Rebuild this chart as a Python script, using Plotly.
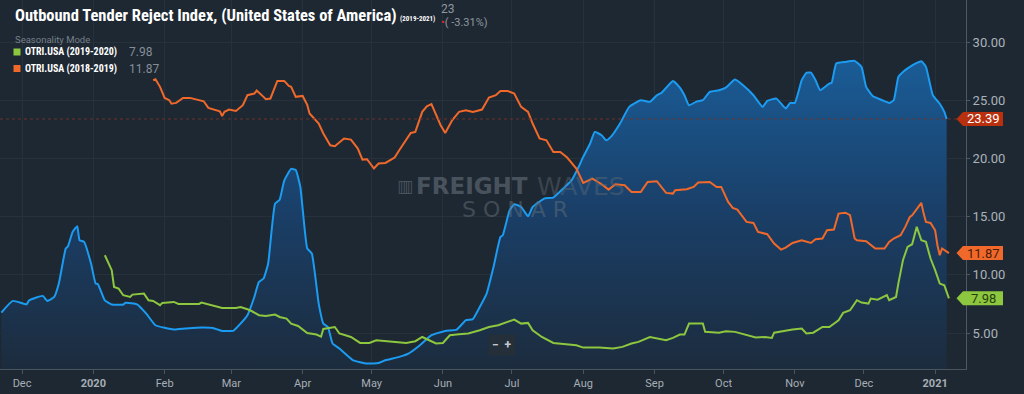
import plotly.graph_objects as go

# ---------------- data ----------------
blue_dates = ["2019-11-22","2019-11-27","2019-12-03","2019-12-04","2019-12-10","2019-12-12","2019-12-15","2019-12-17",
"2019-12-20","2019-12-21","2019-12-23","2019-12-25","2019-12-26","2019-12-28","2019-12-31","2020-01-02","2020-01-03",
"2020-01-06","2020-01-09","2020-01-14","2020-01-15","2020-01-20","2020-01-24","2020-01-28","2020-02-05","2020-02-10",
"2020-02-17","2020-02-22","2020-02-26","2020-03-02","2020-03-05","2020-03-08","2020-03-11","2020-03-13","2020-03-15",
"2020-03-17","2020-03-20","2020-03-22","2020-03-24","2020-03-27","2020-03-29","2020-03-31","2020-04-03","2020-04-05",
"2020-04-08","2020-04-10","2020-04-12","2020-04-14","2020-04-17","2020-04-23","2020-04-29","2020-05-04","2020-05-07",
"2020-05-13","2020-05-17","2020-05-22","2020-05-27","2020-06-02","2020-06-07","2020-06-11","2020-06-14","2020-06-17",
"2020-06-20","2020-06-23","2020-06-26","2020-06-27","2020-06-30","2020-07-02","2020-07-05","2020-07-08","2020-07-10",
"2020-07-15","2020-07-19","2020-07-24","2020-07-27","2020-07-30","2020-08-01","2020-08-04","2020-08-06","2020-08-09",
"2020-08-11","2020-08-13","2020-08-17","2020-08-21","2020-08-26","2020-08-30","2020-09-02","2020-09-04","2020-09-09",
"2020-09-12","2020-09-14","2020-09-16","2020-09-19","2020-09-22","2020-09-25","2020-09-29","2020-10-02","2020-10-06",
"2020-10-10","2020-10-14","2020-10-18","2020-10-20","2020-10-24","2020-10-28","2020-10-30","2020-11-01","2020-11-04",
"2020-11-06","2020-11-08","2020-11-10","2020-11-12","2020-11-16","2020-11-17","2020-11-19","2020-11-23","2020-11-27",
"2020-11-30","2020-12-02","2020-12-05","2020-12-09","2020-12-12","2020-12-14","2020-12-16","2020-12-18","2020-12-21",
"2020-12-24","2020-12-26","2020-12-28","2020-12-31","2021-01-03","2021-01-05","2021-01-06"]
blue_vals = [6.76,7.76,7.47,7.8,8.19,7.76,8.1,9.25,
12.26,12.46,13.69,14.18,12.97,12.83,10.97,9.25,9.2,
7.8,7.45,7.45,7.6,7.47,6.67,5.67,5.3,5.38,
5.47,5.43,5.18,5.21,5.81,6.53,8.1,9.39,9.68,
10.97,16.1,16.45,18.1,19.1,19.0,17.55,12.26,11.83,
7.5,5.81,5.52,4.1,3.67,2.66,2.38,2.43,2.66,
2.95,3.23,3.95,4.81,5.18,5.3,6.1,6.2,7.23,
8.39,10.68,13.26,13.4,15.55,16.07,15.83,15.03,15.83,
16.55,16.64,17.55,18.13,19.27,20.13,21.28,22.28,21.99,
21.56,21.85,23.0,24.43,25.0,24.86,25.43,25.63,26.66,
26.09,25.43,24.57,24.86,25.0,25.72,25.86,26.09,26.77,
26.2,25.43,24.43,24.94,25.14,24.29,24.77,24.77,26.72,
27.35,27.38,26.72,25.86,26.43,26.49,28.15,28.29,28.38,
27.86,26.15,25.34,25.0,24.77,25.0,27.0,27.43,27.86,
28.2,28.35,27.86,25.43,24.7,24.0,23.39]

orange_dates = ["2020-01-27","2020-01-28","2020-01-30","2020-02-01","2020-02-03","2020-02-04","2020-02-06","2020-02-09",
"2020-02-12","2020-02-15","2020-02-18","2020-02-20","2020-02-23","2020-02-25","2020-02-26","2020-02-27","2020-02-29",
"2020-03-03","2020-03-06","2020-03-08","2020-03-11","2020-03-12","2020-03-15","2020-03-16","2020-03-18","2020-03-19",
"2020-03-21","2020-03-24","2020-03-26","2020-03-27","2020-03-29","2020-04-01","2020-04-03","2020-04-04","2020-04-08",
"2020-04-10","2020-04-13","2020-04-15","2020-04-19","2020-04-22","2020-04-25","2020-04-27","2020-04-29","2020-05-02",
"2020-05-04","2020-05-07","2020-05-11","2020-05-13","2020-05-18","2020-05-20","2020-05-23","2020-05-25","2020-05-27",
"2020-05-31","2020-06-02","2020-06-05","2020-06-08","2020-06-11","2020-06-14","2020-06-18","2020-06-21","2020-06-24",
"2020-06-26","2020-06-29","2020-07-02","2020-07-05","2020-07-08","2020-07-10","2020-07-13","2020-07-16","2020-07-19",
"2020-07-22","2020-07-25","2020-07-29","2020-08-01","2020-08-05","2020-08-09","2020-08-12","2020-08-15","2020-08-19",
"2020-08-22","2020-08-26","2020-08-29","2020-09-02","2020-09-06","2020-09-09","2020-09-10","2020-09-15","2020-09-18",
"2020-09-20","2020-09-25","2020-09-28","2020-09-30","2020-10-03","2020-10-05","2020-10-07","2020-10-11","2020-10-14",
"2020-10-16","2020-10-20","2020-10-23","2020-10-26","2020-10-28","2020-10-31","2020-11-04","2020-11-08","2020-11-10",
"2020-11-13","2020-11-15","2020-11-18","2020-11-20","2020-11-23","2020-11-25","2020-11-27","2020-11-28","2020-12-02",
"2020-12-06","2020-12-10","2020-12-12","2020-12-14","2020-12-17","2020-12-19","2020-12-21","2020-12-22","2020-12-24",
"2020-12-26","2020-12-27","2020-12-28","2020-12-30","2021-01-01","2021-01-02","2021-01-03","2021-01-04","2021-01-05",
"2021-01-07"]
orange_vals = [26.72,26.8,26.15,25.2,25.0,24.7,24.77,25.2,
25.2,25.06,24.91,24.34,24.14,24.05,23.65,24.0,24.2,
24.08,24.57,25.43,25.57,25.83,25.29,25.09,25.15,25.66,
26.66,26.66,26.23,26.15,25.29,25.37,24.6,23.86,23.0,
22.14,21.13,21.05,21.71,21.62,20.85,19.9,19.93,19.13,
19.56,19.61,20.08,20.7,22.19,22.28,24.0,24.48,24.66,
22.85,22.19,23.28,24.0,24.14,24.0,24.2,25.23,25.43,
25.8,25.8,25.57,24.43,24.0,23.0,21.71,21.56,20.56,
20.56,20.08,19.13,17.9,18.27,17.78,17.32,17.78,17.7,
17.12,17.12,17.98,18.04,17.04,16.98,17.27,17.35,17.55,
17.93,17.98,17.55,17.55,16.26,15.75,15.6,14.55,14.46,
13.69,13.49,12.69,12.17,12.34,12.74,12.97,12.74,13.06,
13.12,13.83,13.89,15.26,15.34,15.12,13.12,12.97,12.89,
12.26,12.26,12.83,13.12,13.4,14.12,14.97,15.12,15.7,
16.18,15.26,14.55,14.46,13.83,12.54,11.68,12.26,12.11,
11.87]

green_dates = ["2020-01-06","2020-01-09","2020-01-10","2020-01-12","2020-01-14","2020-01-17","2020-01-18","2020-01-23",
"2020-01-25","2020-01-27","2020-01-30","2020-01-31","2020-02-05","2020-02-07","2020-02-12","2020-02-16","2020-02-17",
"2020-02-22","2020-02-26","2020-03-03","2020-03-05","2020-03-08","2020-03-10","2020-03-13","2020-03-16","2020-03-20",
"2020-03-22","2020-03-25","2020-03-27","2020-03-30","2020-04-03","2020-04-07","2020-04-09","2020-04-10","2020-04-15",
"2020-04-17","2020-04-22","2020-04-26","2020-04-30","2020-05-03","2020-05-08","2020-05-12","2020-05-16","2020-05-20",
"2020-05-23","2020-05-26","2020-05-29","2020-06-01","2020-06-04","2020-06-08","2020-06-12","2020-06-17","2020-06-21",
"2020-06-25","2020-06-29","2020-07-02","2020-07-05","2020-07-08","2020-07-10","2020-07-14","2020-07-19","2020-07-25",
"2020-07-29","2020-08-01","2020-08-08","2020-08-14","2020-08-18","2020-08-22","2020-08-25","2020-08-30","2020-09-03",
"2020-09-06","2020-09-09","2020-09-12","2020-09-14","2020-09-16","2020-09-22","2020-09-23","2020-09-29","2020-10-02",
"2020-10-06","2020-10-11","2020-10-15","2020-10-19","2020-10-22","2020-10-23","2020-10-27","2020-10-31","2020-11-04",
"2020-11-06","2020-11-09","2020-11-13","2020-11-16","2020-11-20","2020-11-22","2020-11-25","2020-11-28","2020-11-30",
"2020-12-03","2020-12-04","2020-12-07","2020-12-11","2020-12-12","2020-12-15","2020-12-16","2020-12-18","2020-12-20",
"2020-12-22","2020-12-24","2020-12-26","2020-12-28","2020-12-30","2021-01-01","2021-01-03","2021-01-05","2021-01-07"]
green_vals = [11.68,10.4,8.96,8.82,8.25,8.1,8.3,8.39,
7.82,7.76,7.39,7.59,7.67,7.5,7.5,7.5,7.62,
7.33,7.16,7.16,7.24,7.04,6.87,6.53,6.47,6.59,
6.38,6.24,5.81,5.61,5.0,4.87,4.69,5.35,5.52,
4.96,4.66,4.15,4.15,4.38,4.3,4.25,4.15,4.3,
4.66,4.38,4.1,4.15,4.81,4.9,4.96,5.24,5.52,
5.67,5.95,6.16,5.81,5.87,5.24,4.66,4.15,4.04,
3.95,3.75,3.75,3.67,3.81,4.1,4.24,4.66,4.53,
4.38,4.58,4.87,4.87,5.81,5.81,5.1,5.03,5.15,
5.1,4.81,4.61,4.66,4.58,5.03,5.18,5.3,5.38,
4.96,5.03,5.52,5.52,6.1,6.73,6.96,7.82,7.62,
7.53,7.96,7.87,8.25,7.82,8.1,9.25,11.25,12.4,
12.63,14.12,12.97,12.83,11.4,10.4,9.25,9.1,7.98]

month_ticks = ["2019-12-01","2020-01-01","2020-02-01","2020-03-01","2020-04-01","2020-05-01","2020-06-01",
               "2020-07-01","2020-08-01","2020-09-01","2020-10-01","2020-11-01","2020-12-01","2021-01-01"]
month_labels = ["Dec","<b>2020</b>","Feb","Mar","Apr","May","Jun","Jul","Aug","Sep","Oct","Nov","Dec","<b>2021</b>"]
y_ticks = [5, 10, 15, 20, 25, 30]

# ---------------- styling ----------------
BG = "#1e2832"
BLUE = "#1b9cf2"
ORANGE = "#f0692b"
GREEN = "#8dc63f"
GRID = "#26313c"
Y_LO, Y_HI = 1.91, 33.61
X_LO, X_HI = "2019-11-21 10:00", "2021-01-14 10:00"
PLOT_W, PLOT_H = 966, 369

def px(x):
    return x / PLOT_W

def py(y):
    return 1 - y / PLOT_H

def vpaper(v):
    return (v - Y_LO) / (Y_HI - Y_LO)

fig = go.Figure()

fig.add_trace(go.Scatter(
    x=blue_dates, y=blue_vals, mode="lines",
    line=dict(color=BLUE, width=2, shape="spline", smoothing=0.4),
    fill="tozeroy",
    fillgradient=dict(type="vertical", start=2, stop=28,
                      colorscale=[[0, "#1c2c3e"], [0.5, "#1a3e66"], [1, "#1a5b95"]]),
    hoverinfo="skip", showlegend=False))
fig.add_trace(go.Scatter(
    x=orange_dates, y=orange_vals, mode="lines",
    line=dict(color=ORANGE, width=2), hoverinfo="skip", showlegend=False))
fig.add_trace(go.Scatter(
    x=green_dates, y=green_vals, mode="lines",
    line=dict(color=GREEN, width=2), hoverinfo="skip", showlegend=False))

TICKFONT = "Roboto, Noto Sans, sans-serif"
COND = "Roboto Condensed, Liberation Sans Narrow, DejaVu Sans Condensed, Roboto, sans-serif"

fig.update_layout(
    width=1024, height=394, autosize=False,
    margin=dict(l=0, r=58, t=0, b=25, pad=0),
    paper_bgcolor=BG, plot_bgcolor=BG,
    showlegend=False,
    xaxis=dict(type="date", range=[X_LO, X_HI], tickvals=month_ticks, ticktext=month_labels,
               showgrid=True, gridcolor=GRID, gridwidth=1, zeroline=False,
               showline=True, linecolor="#4a545e", linewidth=1,
               ticks="outside", ticklen=4, tickcolor="#4a545e",
               tickfont=dict(family=TICKFONT, size=11, color="#a6aeb6"), fixedrange=True),
    yaxis=dict(range=[Y_LO, Y_HI], side="right", tickvals=y_ticks, tickformat=".2f",
               showgrid=True, gridcolor=GRID, gridwidth=1, zeroline=False,
               showline=True, linecolor="#4f5962", linewidth=1,
               ticks="outside", ticklen=3, tickcolor="#4f5962",
               tickfont=dict(family=TICKFONT, size=13, color="#aab2ba"), fixedrange=True),
)

shapes = []
annotations = []

# dashed reference line at the last value of the main series
last_blue = blue_vals[-1]
shapes.append(dict(type="line", xref="paper", yref="y", x0=0, x1=px(958), y0=last_blue, y1=last_blue,
                   line=dict(color="#6e3329", width=1, dash="3px,3px"), layer="above"))

# value tags on the right
tag_specs = [(blue_vals[-1], "#b9300f", "#ffffff"),
             (orange_vals[-1], "#f0692b", "#4a1c06"),
             (green_vals[-1], "#8dc63f", "#26400c")]
half = 7 / (PLOT_H / (Y_HI - Y_LO))
for val, bg, fg in tag_specs:
    c = vpaper(val)
    h = half / (Y_HI - Y_LO)
    tip, lft, rgt = px(956.5), px(963), px(1003)
    shapes.append(dict(type="path", xref="paper", yref="paper",
                       path=f"M {tip},{c} L {lft},{c+h} L {rgt},{c+h} L {rgt},{c-h} L {lft},{c-h} Z",
                       fillcolor=bg, line=dict(width=0), layer="above"))
    annotations.append(dict(xref="paper", yref="paper", x=px(983), y=c, text=f"{val:.2f}",
                            showarrow=False, xanchor="center", yanchor="middle",
                            font=dict(family=TICKFONT, size=13, color=fg)))

# title block
annotations += [
    dict(xref="paper", yref="paper", x=px(13), y=py(15), xanchor="left", yanchor="middle", showarrow=False,
         text="<b>Outbound Tender Reject Index, (United States of America)</b>",
         font=dict(family=COND, size=16.5, color="#ffffff")),
    dict(xref="paper", yref="paper", x=px(398), y=py(18.5), xanchor="left", yanchor="middle", showarrow=False,
         text="<b>(2019-2021)</b>", font=dict(family=COND, size=7, color="#ffffff")),
    dict(xref="paper", yref="paper", x=px(439), y=py(9.5), xanchor="left", yanchor="middle", showarrow=False,
         text="23", font=dict(family=TICKFONT, size=12, color="#8e979f")),
    dict(xref="paper", yref="paper", x=px(439), y=py(22.5), xanchor="left", yanchor="middle", showarrow=False,
         text="<span style='color:#e5262b'>•</span>( -3.31%)", font=dict(family=TICKFONT, size=11, color="#8e979f")),
    dict(xref="paper", yref="paper", x=px(13), y=py(39), xanchor="left", yanchor="middle", showarrow=False,
         text="Seasonality Mode", font=dict(family=TICKFONT, size=9.5, color="#76808a")),
]

# custom legend
legend_rows = [(GREEN, "OTRI.USA (2019-2020)", green_vals[-1], 52),
               (ORANGE, "OTRI.USA (2018-2019)", orange_vals[-1], 68.5)]
for col, name, val, yc in legend_rows:
    shapes.append(dict(type="rect", xref="paper", yref="paper",
                       x0=px(13.5), x1=px(20.5), y0=py(yc + 3.5), y1=py(yc - 3.5),
                       fillcolor=col, line=dict(width=0), layer="above"))
    annotations.append(dict(xref="paper", yref="paper", x=px(23), y=py(yc), xanchor="left", yanchor="middle",
                            showarrow=False, text=f"<b>{name}</b>",
                            font=dict(family=COND, size=10, color="#ffffff")))
    annotations.append(dict(xref="paper", yref="paper", x=px(127), y=py(yc), xanchor="left", yanchor="middle",
                            showarrow=False, text=f"{val:.2f}",
                            font=dict(family=TICKFONT, size=12, color="#858e97")))

# watermark
annotations += [
    dict(xref="paper", yref="paper", x=px(395), y=py(186), xanchor="left", yanchor="middle", showarrow=False,
         text="<b>▥</b>", font=dict(family="DejaVu Sans", size=17, color="rgba(110,120,130,0.55)")),
    dict(xref="paper", yref="paper", x=px(414), y=py(186), xanchor="left", yanchor="middle", showarrow=False,
         text="<b>FREIGHT</b>", font=dict(family="DejaVu Sans", size=23, color="rgba(110,120,130,0.55)")),
    dict(xref="paper", yref="paper", x=px(535), y=py(186), xanchor="left", yanchor="middle", showarrow=False,
         text="WAVES", font=dict(family="DejaVu Sans ExtraLight, DejaVu Sans", size=25, color="rgba(95,105,115,0.45)")),
    dict(xref="paper", yref="paper", x=px(515), y=py(209), xanchor="center", yanchor="middle", showarrow=False,
         text="S O N A R", font=dict(family="DejaVu Sans ExtraLight, DejaVu Sans", size=22, color="rgba(100,110,120,0.5)")),
]

# zoom buttons
annotations.append(dict(xref="paper", yref="paper", x=px(502), y=py(345), xanchor="center", yanchor="middle",
                        showarrow=False, text="<b>−  +</b>", bgcolor="#252f39", borderpad=3,
                        font=dict(family=TICKFONT, size=12, color="#c3c9cf")))

fig.update_layout(shapes=shapes, annotations=annotations)
fig.write_html("out.html", config={"displayModeBar": False},
               post_script="document.body.style.margin='0';document.body.style.padding='0';")
